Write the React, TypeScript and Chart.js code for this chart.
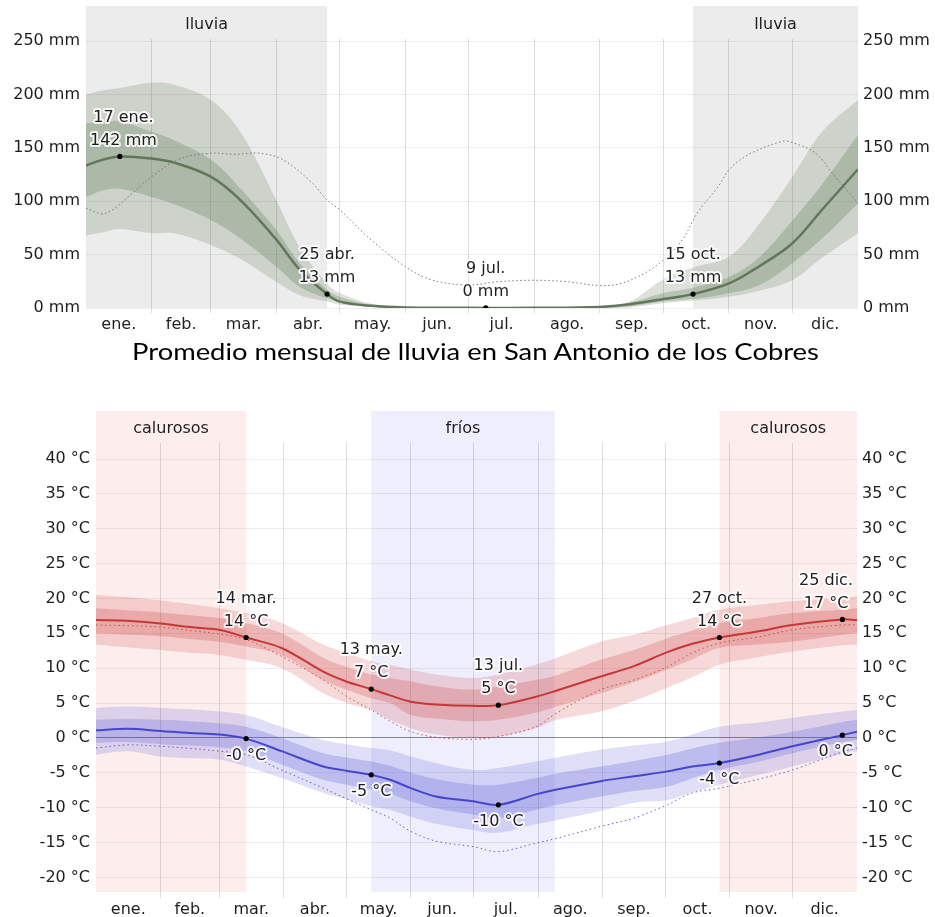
import React, { useEffect, useRef } from "react";
import { Chart, registerables } from "chart.js";

Chart.register(...registerables);

const FONT = "'DejaVu Sans', sans-serif";
const TEXT = "#1e1e1e";

// ---------- axes ----------
const monthLabels = ["ene.", "feb.", "mar.", "abr.", "may.", "jun.", "jul.", "ago.", "sep.", "oct.", "nov.", "dic."];
const monthStarts = [31, 59, 90, 120, 151, 181, 212, 243, 273, 304, 334];
const monthMids = [15.5, 45, 74.5, 105, 135.5, 166, 196.5, 227.5, 258, 288.5, 319, 349.5];
const rainTicks = [0, 50, 100, 150, 200, 250];
const tempTicks = [-20, -15, -10, -5, 0, 5, 10, 15, 20, 25, 30, 35, 40];

// ---------- rain (mm) ----------
const rainDays = [0, 8, 16, 31, 42, 59, 73, 90, 101, 114, 120, 135, 151, 170, 189, 212, 243, 257, 273, 287, 304, 318, 334, 348, 365];
const rainMean = [133.5, 139, 142, 140, 136, 123, 101, 64, 36, 13, 6, 2, 0.5, 0.2, 0.1, 0.2, 1, 3.5, 8.4, 13, 23, 38.7, 60.7, 92, 130];
const rainP90 = [200, 204, 206, 211, 209, 195, 165, 101, 57, 23, 14, 4, 1.2, 0.5, 0.5, 0.5, 1.5, 6, 27, 38, 48, 78, 123, 165, 195];
const rainP75 = [173, 174, 175, 165, 157, 139, 112, 73, 42, 17, 10.6, 3, 0.8, 0.3, 0.3, 0.3, 1.2, 5, 14, 19, 29, 47, 82, 116, 162];
const rainP25 = [104, 110, 111.6, 104, 97, 82.5, 65, 38.7, 20, 9, 6, 1.5, 0.3, 0.1, 0.1, 0.1, 0.3, 1.5, 6, 8.5, 13.8, 21, 42, 65, 98];
const rainP10 = [68, 71, 74, 70, 70, 59, 46, 24.7, 12, 6, 3, 1, 0.2, 0, 0, 0, 0, 0.5, 4.4, 7, 10.6, 16, 26, 47, 70];
const rainDotDays = [0, 9, 22, 31, 44, 59, 70, 82, 93, 107, 114, 120, 133, 151, 164, 181, 195, 212, 227, 243, 253, 264, 273, 282, 289, 299, 304, 313, 329, 334, 345, 353, 365];
const rainDot = [93.5, 88.5, 107.6, 123, 139.5, 145, 144, 145, 139, 117, 101, 92, 67, 38.7, 26, 21.6, 24.7, 26, 24.7, 21, 23, 32.5, 45, 64, 89, 114, 129.5, 143.5, 156, 155, 145, 126, 98];
const rainNoteDays = [16, 114, 189, 287];
const rainNoteDates = ["17 ene.", "25 abr.", "9 jul.", "15 oct."];
const rainNoteValues = ["142 mm", "13 mm", "0 mm", "13 mm"];
const rainSeasonRanges = [[0, 114], [287, 365]];
const rainSeasonLabels = ["lluvia", "lluvia"];

// ---------- temperature (°C) ----------
const tempDays = [0, 15, 31, 45, 59, 72, 89, 109, 120, 132, 141, 151, 163, 181, 193, 211, 221, 242, 258, 274, 286, 299, 318, 334, 358, 365];
const highMean = [16.9, 16.8, 16.4, 15.9, 15.5, 14.4, 12.9, 9.5, 8.1, 7.0, 6.1, 5.2, 4.8, 4.6, 4.7, 5.9, 6.8, 8.8, 10.3, 12.3, 13.5, 14.4, 15.3, 16.2, 17.0, 16.9];
const highP90 = [20.5, 20.2, 19.7, 19.2, 18.6, 17.9, 16.5, 13.4, 12.2, 11.0, 10.5, 9.8, 9.1, 8.6, 9.1, 10.5, 11.5, 13.8, 14.8, 16.2, 17.2, 18.4, 19.1, 19.6, 20.1, 20.3];
const highP75 = [18.6, 18.3, 18.0, 17.6, 17.2, 16.5, 15.0, 11.5, 10.2, 9.1, 8.6, 8.1, 7.4, 6.9, 7.4, 8.3, 9.0, 11.2, 12.6, 14.3, 15.4, 16.5, 17.2, 17.9, 18.4, 18.6];
const highP25 = [15.0, 14.8, 14.6, 14.2, 13.8, 13.1, 11.9, 8.3, 6.9, 5.7, 5.0, 3.3, 2.8, 2.4, 2.6, 3.6, 4.5, 6.4, 8.0, 9.8, 11.3, 12.9, 13.4, 13.8, 14.8, 15.0];
const highP10 = [13.4, 13.0, 12.6, 12.2, 11.9, 11.2, 10.0, 6.4, 5.0, 4.0, 2.6, 1.4, 0.5, 0.0, 0.2, 1.4, 2.6, 3.8, 5.3, 7.2, 8.7, 10.5, 11.6, 12.4, 13.3, 13.4];
const highDot = [16.2, 16.1, 15.9, 15.4, 14.9, 14.1, 11.7, 8.3, 6.0, 4.0, 2.4, 0.9, 0.1, -0.2, 0.2, 1.6, 3.6, 6.9, 8.3, 10.2, 12.2, 13.6, 14.5, 15.5, 16.2, 16.2];
const lowMean = [1.1, 1.3, 1.0, 0.7, 0.5, -0.1, -1.9, -4.1, -4.7, -5.3, -6.0, -7.2, -8.4, -9.1, -9.6, -8.1, -7.4, -6.2, -5.5, -4.8, -4.1, -3.6, -2.4, -1.2, 0.4, 0.9];
const lowP90 = [4.3, 4.5, 4.3, 4.1, 3.8, 3.3, 1.6, -0.3, -0.9, -1.45, -1.8, -2.65, -3.6, -4.6, -4.3, -3.4, -2.8, -1.7, -1.1, -0.5, 0.5, 1.6, 2.2, 2.9, 3.8, 4.0];
const lowP75 = [2.6, 2.7, 2.6, 2.4, 2.1, 1.6, 0.0, -2.2, -2.8, -3.4, -4.0, -5.0, -5.9, -6.7, -6.7, -5.75, -5.1, -4.1, -3.3, -2.4, -1.5, -0.7, 0.1, 0.9, 2.3, 2.6];
const lowP25 = [-0.7, -0.6, -0.9, -1.1, -1.35, -1.9, -3.8, -6.0, -6.7, -7.4, -8.0, -9.1, -10.1, -11.0, -11.5, -10.3, -9.6, -8.4, -7.6, -7.0, -5.8, -4.6, -3.4, -2.2, -0.6, -0.3];
const lowP10 = [-2.4, -1.9, -2.65, -2.9, -3.1, -4.1, -5.75, -7.9, -8.8, -9.8, -10.3, -11.3, -12.3, -13.2, -13.6, -12.4, -11.8, -10.5, -9.3, -8.9, -7.8, -6.7, -5.3, -4.1, -2.3, -1.9];
const lowDot = [-1.45, -1.0, -1.2, -1.5, -1.9, -2.4, -4.6, -7.2, -8.7, -10.3, -11.5, -13.4, -14.8, -15.6, -16.3, -15.1, -14.4, -12.7, -11.5, -9.6, -7.9, -7.2, -5.9, -4.6, -2.0, -1.45];
const tempNoteDays = [72, 132, 193, 299, 358];
const tempNoteDates = ["14 mar.", "13 may.", "13 jul.", "27 oct.", "25 dic."];
const highNoteValues = ["14 °C", "7 °C", "5 °C", "14 °C", "17 °C"];
const lowNoteValues = ["-0 °C", "-5 °C", "-10 °C", "-4 °C", "0 °C"];
const tempSeasonRanges = [[0, 72], [132, 220], [299, 365]];
const tempSeasonLabels = ["calurosos", "fríos", "calurosos"];
const tempSeasonColors = ["#fdeeee", "#eeeefc", "#fdeeee"];

// ---------- helpers ----------
const pts = (days: number[], vals: number[]) => days.map((d, i) => ({ x: d, y: vals[i] }));
const at = (days: number[], vals: number[], d: number) => vals[days.indexOf(d)];
const TENSION = 0.35;

const gridX = (ctx: any) =>
  ctx.tick && monthStarts.includes(ctx.tick.value) ? "rgba(0,0,0,0.13)" : "rgba(0,0,0,0)";

function xAxis(height: number, tickLength: number) {
  return {
    type: "linear",
    position: "bottom",
    min: 0,
    max: 365,
    afterBuildTicks: (s: any) => {
      s.ticks = [...monthStarts, ...monthMids].sort((a, b) => a - b).map((v) => ({ value: v }));
    },
    afterFit: (s: any) => {
      s.height = height;
    },
    ticks: {
      autoSkip: false,
      maxRotation: 0,
      minRotation: 0,
      padding: 2,
      color: TEXT,
      font: { family: FONT, size: 16 },
      callback: (v: number) => {
        const i = monthMids.indexOf(v);
        return i >= 0 ? monthLabels[i] : "";
      },
    },
    grid: { color: gridX, tickColor: gridX, tickLength, drawTicks: true, lineWidth: 1 },
    border: { display: false },
  };
}

function yAxis(pos: string, min: number, max: number, ticks: number[], unit: string, width: number, padding: number, showGrid: boolean) {
  return {
    type: "linear",
    position: pos,
    min,
    max,
    afterBuildTicks: (s: any) => {
      s.ticks = ticks.map((v) => ({ value: v }));
    },
    afterFit: (s: any) => {
      s.width = width;
    },
    ticks: {
      padding,
      color: TEXT,
      font: { family: FONT, size: 16 },
      callback: (v: number) => v + unit,
    },
    grid: {
      display: showGrid,
      drawTicks: false,
      color: (ctx: any) => (ctx.tick && ctx.tick.value === 0 && unit === " °C" ? "rgba(0,0,0,0.45)" : "rgba(0,0,0,0.07)"),
    },
    border: { display: false },
  };
}

const lineDs = (data: any[], color: string, width: number, order: number, dash: number[] = []) => ({
  data,
  borderColor: color,
  borderWidth: width,
  borderDash: dash,
  pointRadius: 0,
  fill: false,
  tension: TENSION,
  order,
});

const bandDs = (data: any[], target: number | boolean, color: string, order: number) => ({
  data,
  borderWidth: 0,
  borderColor: "rgba(0,0,0,0)",
  pointRadius: 0,
  fill: target,
  backgroundColor: color,
  tension: TENSION,
  order,
});

const dotDs = (data: any[]) => ({
  data,
  showLine: false,
  pointRadius: 2.6,
  pointBackgroundColor: "#000",
  pointBorderWidth: 0,
  order: 0,
});

function seasonPlugin(ranges: number[][], labels: string[], colors: string[], topY: number, labelY: number) {
  return {
    id: "seasons",
    beforeDraw(chart: any) {
      const { ctx, chartArea, scales } = chart;
      const x = scales.x;
      ctx.save();
      ranges.forEach((r, i) => {
        const x0 = x.getPixelForValue(r[0]);
        const x1 = x.getPixelForValue(r[1]);
        ctx.fillStyle = colors[i];
        ctx.fillRect(x0, topY, x1 - x0, chartArea.bottom - topY);
        ctx.fillStyle = TEXT;
        ctx.font = `16px ${FONT}`;
        ctx.textAlign = "center";
        ctx.textBaseline = "middle";
        ctx.fillText(labels[i], (x0 + x1) / 2, labelY);
      });
      ctx.restore();
    },
  };
}

type Note = { x: number; y: number; lines: string[]; below: boolean };

function notePlugin(notes: Note[]) {
  return {
    id: "notes",
    afterDatasetsDraw(chart: any) {
      const { ctx, chartArea, scales } = chart;
      const xs = scales.x;
      const ys = scales.y;
      ctx.save();
      ctx.font = `16px ${FONT}`;
      ctx.textAlign = "center";
      ctx.textBaseline = "middle";
      ctx.lineJoin = "round";
      notes.forEach((n) => {
        const px = xs.getPixelForValue(n.x);
        const py = ys.getPixelForValue(n.y);
        const w = Math.max(...n.lines.map((l) => ctx.measureText(l).width));
        const cx = Math.min(Math.max(px, chartArea.left + 4 + w / 2), chartArea.right - 4 - w / 2);
        n.lines.forEach((line, i) => {
          const ly = n.below ? py + 17 + i * 23 : py - 16 - (n.lines.length - 1 - i) * 23;
          ctx.lineWidth = 4;
          ctx.strokeStyle = "rgba(255,255,255,0.85)";
          ctx.strokeText(line, cx, ly);
          ctx.fillStyle = TEXT;
          ctx.fillText(line, cx, ly);
        });
      });
      ctx.restore();
    },
  };
}

// ---------- configs ----------
function rainConfig() {
  const green = "rgb(98,118,92)";
  const notes: Note[] = rainNoteDays.map((d, i) => ({
    x: d,
    y: at(rainDays, rainMean, d),
    lines: [rainNoteDates[i], rainNoteValues[i]],
    below: false,
  }));
  return {
    type: "line",
    data: {
      datasets: [
        dotDs(rainNoteDays.map((d) => ({ x: d, y: at(rainDays, rainMean, d) }))),
        lineDs(pts(rainDays, rainMean), green, 2.5, 1),
        lineDs(pts(rainDotDays, rainDot), "rgba(110,110,110,0.9)", 1, 2, [1.5, 2.5]),
        bandDs(pts(rainDays, rainP75), 4, "rgba(100,125,90,0.3)", 3),
        bandDs(pts(rainDays, rainP25), false, "rgba(0,0,0,0)", 3),
        bandDs(pts(rainDays, rainP90), 6, "rgba(105,130,95,0.23)", 4),
        bandDs(pts(rainDays, rainP10), false, "rgba(0,0,0,0)", 4),
      ],
    },
    options: {
      responsive: false,
      animation: false,
      events: [],
      layout: { padding: { top: 39, left: 0, right: 0, bottom: 0 } },
      plugins: { legend: { display: false }, tooltip: { enabled: false } },
      scales: {
        x: xAxis(32, 5),
        y: yAxis("left", 0, 252, rainTicks, " mm", 86, 6, true),
        y2: yAxis("right", 0, 252, rainTicks, " mm", 77, 5, false),
      },
    },
    plugins: [
      seasonPlugin(rainSeasonRanges, rainSeasonLabels, ["#ececec", "#ececec"], 6, 25),
      notePlugin(notes),
    ],
  };
}

function tempConfig() {
  const red = "rgb(200,55,55)";
  const blue = "rgb(70,70,205)";
  const notes: Note[] = [
    ...tempNoteDays.map((d, i) => ({
      x: d,
      y: at(tempDays, highMean, d),
      lines: [tempNoteDates[i], highNoteValues[i]],
      below: false,
    })),
    ...tempNoteDays.map((d, i) => ({
      x: d,
      y: at(tempDays, lowMean, d),
      lines: [lowNoteValues[i]],
      below: true,
    })),
  ];
  return {
    type: "line",
    data: {
      datasets: [
        dotDs([
          ...tempNoteDays.map((d) => ({ x: d, y: at(tempDays, highMean, d) })),
          ...tempNoteDays.map((d) => ({ x: d, y: at(tempDays, lowMean, d) })),
        ]),
        lineDs(pts(tempDays, highMean), red, 2, 1),
        lineDs(pts(tempDays, lowMean), blue, 2, 1),
        lineDs(pts(tempDays, highDot), "rgba(200,55,55,0.85)", 1, 2, [1.5, 3]),
        lineDs(pts(tempDays, lowDot), "rgba(70,70,205,0.85)", 1, 2, [1.5, 3]),
        bandDs(pts(tempDays, highP75), 6, "rgba(205,60,60,0.24)", 3),
        bandDs(pts(tempDays, highP25), false, "rgba(0,0,0,0)", 3),
        bandDs(pts(tempDays, highP90), 8, "rgba(205,60,60,0.19)", 4),
        bandDs(pts(tempDays, highP10), false, "rgba(0,0,0,0)", 4),
        bandDs(pts(tempDays, lowP75), 10, "rgba(80,80,215,0.24)", 3),
        bandDs(pts(tempDays, lowP25), false, "rgba(0,0,0,0)", 3),
        bandDs(pts(tempDays, lowP90), 12, "rgba(80,80,215,0.18)", 4),
        bandDs(pts(tempDays, lowP10), false, "rgba(0,0,0,0)", 4),
      ],
    },
    options: {
      responsive: false,
      animation: false,
      events: [],
      layout: { padding: { top: 43, left: 0, right: 0, bottom: 0 } },
      plugins: { legend: { display: false }, tooltip: { enabled: false } },
      scales: {
        x: xAxis(25, 6),
        y: yAxis("left", -22.1, 42.3, tempTicks, " °C", 96, 6, true),
        y2: yAxis("right", -22.1, 42.3, tempTicks, " °C", 78, 5, false),
      },
    },
    plugins: [seasonPlugin(tempSeasonRanges, tempSeasonLabels, tempSeasonColors, 11, 29), notePlugin(notes)],
  };
}

function ChartCanvas({ makeConfig, width, height, top }: { makeConfig: () => any; width: number; height: number; top: number }) {
  const ref = useRef<HTMLCanvasElement | null>(null);
  useEffect(() => {
    const chart = new Chart(ref.current as HTMLCanvasElement, makeConfig());
    return () => chart.destroy();
  }, []);
  return (
    <canvas
      ref={ref}
      width={width}
      height={height}
      style={{ position: "absolute", left: 0, top, width, height, display: "block" }}
    />
  );
}

export default function App() {
  return (
    <div style={{ position: "absolute", left: 0, top: 0, width: 935, height: 917, background: "#fff", overflow: "hidden" }}>
      <ChartCanvas makeConfig={rainConfig} width={935} height={340} top={0} />
      <div
        style={{
          position: "absolute",
          left: 0,
          top: 336,
          width: 951,
          textAlign: "center",
          fontFamily: "Lato, 'Open Sans', sans-serif",
          fontSize: 23,
          lineHeight: "30px",
          color: "#000",
          whiteSpace: "nowrap",
          transform: "scaleX(1.19)",
          transformOrigin: "475.5px 50%",
        }}
      >
        Promedio mensual de lluvia en San Antonio de los Cobres
      </div>
      <ChartCanvas makeConfig={tempConfig} width={935} height={517} top={400} />
    </div>
  );
}
